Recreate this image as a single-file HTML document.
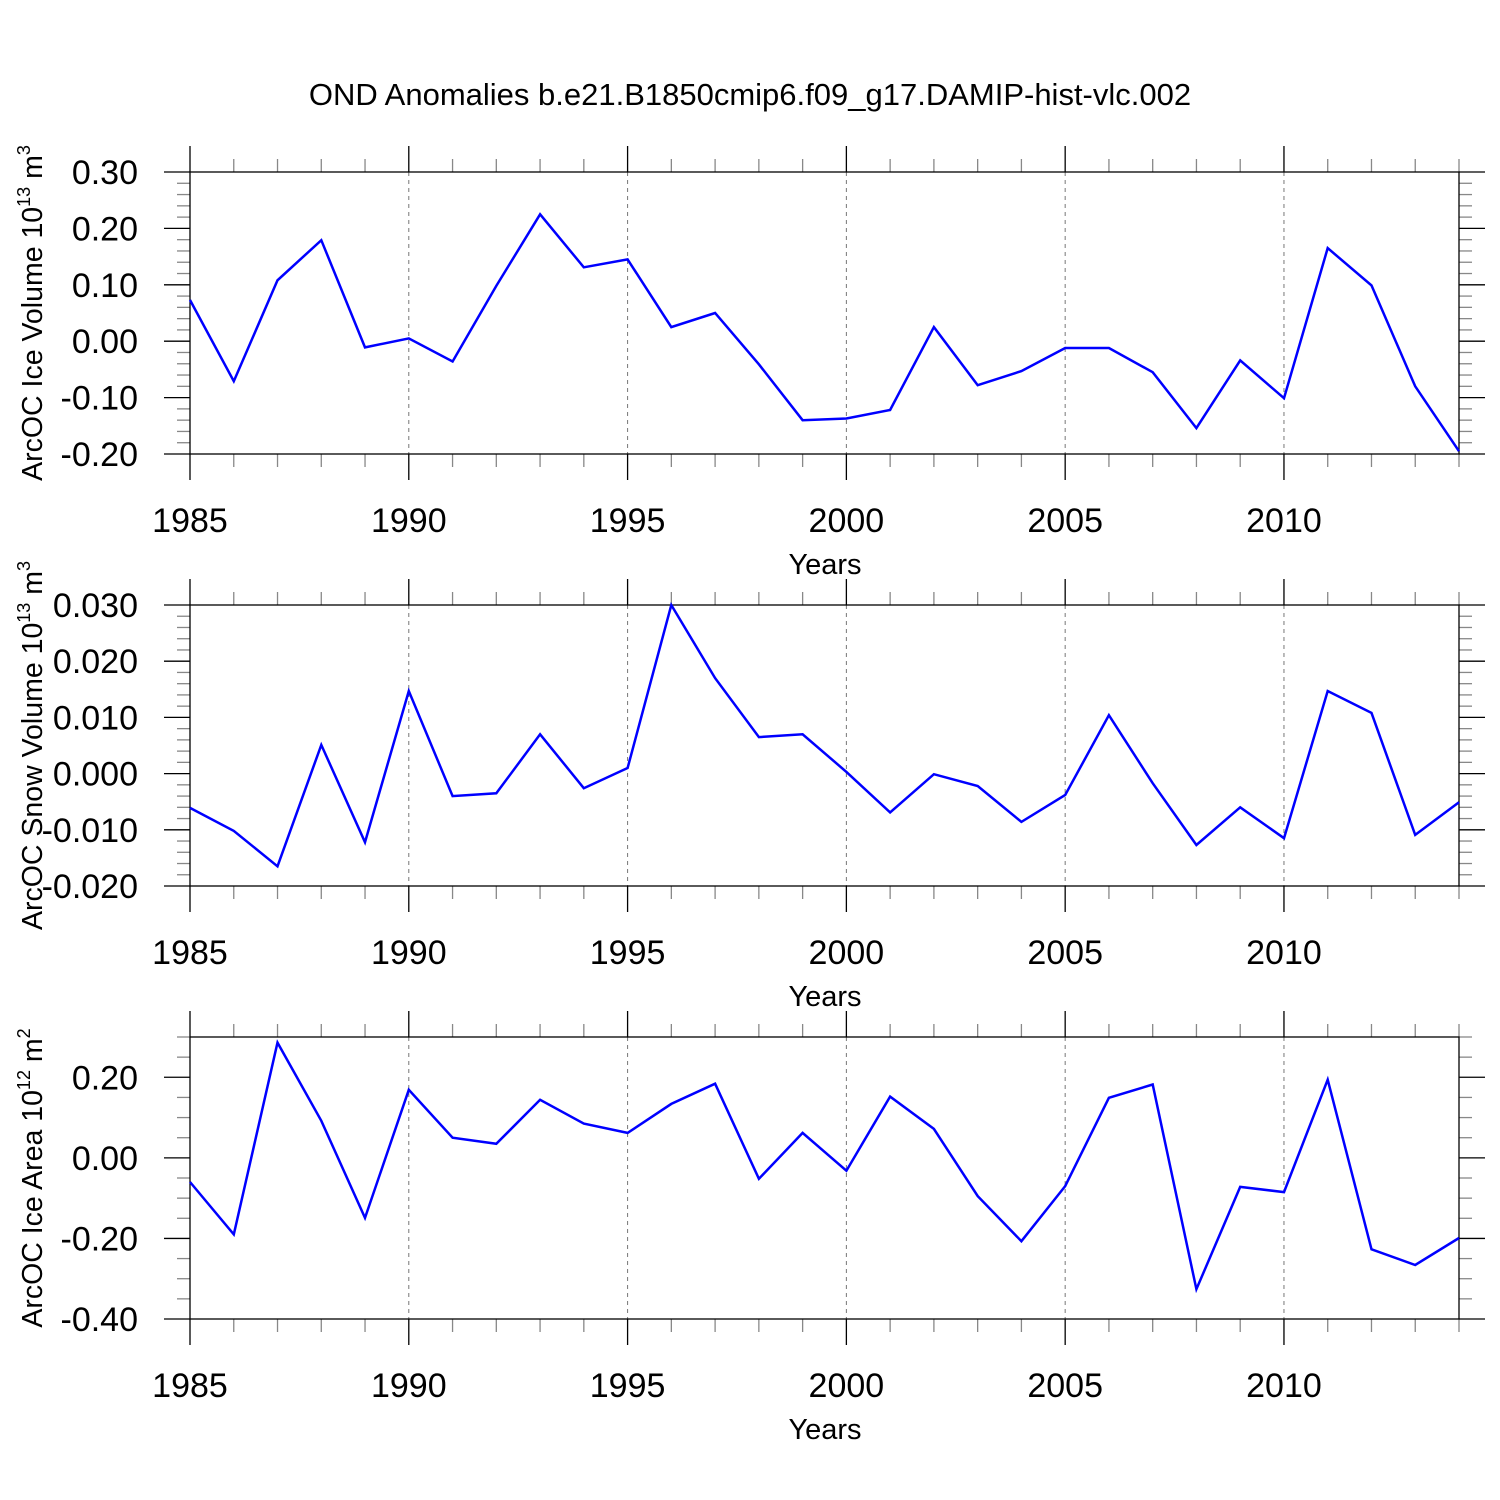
<!DOCTYPE html>
<html><head><meta charset="utf-8"><style>
html,body{margin:0;padding:0;background:#fff;}
svg{display:block;font-family:"Liberation Sans",sans-serif;}
</style></head><body>
<svg id="chart" width="1500" height="1500" viewBox="0 0 1500 1500" xmlns="http://www.w3.org/2000/svg">
<text x="750" y="105" font-size="31" text-anchor="middle">OND Anomalies b.e21.B1850cmip6.f09_g17.DAMIP-hist-vlc.002</text>
</svg>
<script>
const years = [1985,1986,1987,1988,1989,1990,1991,1992,1993,1994,1995,1996,1997,1998,1999,2000,2001,2002,2003,2004,2005,2006,2007,2008,2009,2010,2011,2012,2013,2014];
const iceVolume = [0.073,-0.071,0.108,0.179,-0.011,0.005,-0.036,0.098,0.225,0.131,0.145,0.025,0.050,-0.041,-0.140,-0.137,-0.122,0.025,-0.078,-0.053,-0.012,-0.012,-0.055,-0.154,-0.034,-0.101,0.165,0.099,-0.080,-0.195];
const snowVolume = [-0.0061,-0.0102,-0.0165,0.0051,-0.0122,0.0147,-0.0040,-0.0035,0.0070,-0.0026,0.0010,0.0300,0.0170,0.0065,0.0070,0.0003,-0.0069,-0.0001,-0.0022,-0.0086,-0.0038,0.0104,-0.0017,-0.0127,-0.0060,-0.0115,0.0147,0.0108,-0.0109,-0.0051];
const iceArea = [-0.060,-0.190,0.286,0.092,-0.149,0.169,0.050,0.035,0.144,0.085,0.062,0.134,0.184,-0.052,0.062,-0.032,0.152,0.072,-0.095,-0.207,-0.070,0.149,0.182,-0.326,-0.072,-0.085,0.194,-0.227,-0.266,-0.199];
const xTickYears = [1985,1990,1995,2000,2005,2010];
const ticks1 = ["0.30","0.20","0.10","0.00","-0.10","-0.20"];
const ticks2 = ["0.030","0.020","0.010","0.000","-0.010","-0.020"];
const ticks3 = ["0.20","0.00","-0.20","-0.40"];

const NS="http://www.w3.org/2000/svg";
const svg=document.getElementById('chart');
function mk(tag,attrs,parent){const e=document.createElementNS(NS,tag);for(const k in attrs)e.setAttribute(k,attrs[k]);(parent||svg).appendChild(e);return e;}
const X0=190,X1=1459;
function xs(yr){return X0+(yr-1985)*(X1-X0)/29;}

const panels=[
 {name:'ice-volume',top:172,bot:454,min:-0.2,max:0.3,major:0.1,minor:0.02,labels:ticks1,data:iceVolume,title:['ArcOC Ice Volume 10','13',' m','3']},
 {name:'snow-volume',top:605,bot:886,min:-0.02,max:0.03,major:0.01,minor:0.002,labels:ticks2,data:snowVolume,title:['ArcOC Snow Volume 10','13',' m','3']},
 {name:'ice-area',top:1037,bot:1319,min:-0.4,max:0.3,major:0.2,minor:0.05,labels:ticks3,data:iceArea,title:['ArcOC Ice Area 10','12',' m','2']}
];
panels.forEach(p=>{
 const g=mk('g',{});
 
 
 const ys=v=>p.bot-(v-p.min)*(p.bot-p.top)/(p.max-p.min);
 xTickYears.slice(1).forEach(yr=>{
  const l=mk('line',{x1:xs(yr),x2:xs(yr),y1:p.top,y2:p.bot,stroke:'#777','stroke-width':1,'stroke-dasharray':'4,4'},g);
  
  
 });
 years.forEach(yr=>{
  const maj=(yr-1985)%5===0, L=maj?26:13, c=maj?'#000':'#888';
  mk('line',{x1:xs(yr),x2:xs(yr),y1:p.top-L,y2:p.top,stroke:c,'stroke-width':1.3},g);
  mk('line',{x1:xs(yr),x2:xs(yr),y1:p.bot,y2:p.bot+L,stroke:c,'stroke-width':1.3},g);
 });
 xTickYears.forEach(yr=>{
  const t=mk('text',{x:xs(yr),y:p.bot+78,'font-size':34,'text-anchor':'middle'},g);t.textContent=yr;
  
  
 });
 const nMin=Math.round((p.max-p.min)/p.minor);
 for(let i=0;i<=nMin;i++){
  const v=p.min+i*p.minor; const r=Math.abs(v/p.major-Math.round(v/p.major))<1e-6;
  const L=r?26:13,c=r?'#000':'#888',y=ys(v);
  mk('line',{x1:X0-L,x2:X0,y1:y,y2:y,stroke:c,'stroke-width':1.3},g);
  mk('line',{x1:X1,x2:X1+L,y1:y,y2:y,stroke:c,'stroke-width':1.3},g);
 }
 p.labels.forEach(s=>{
  const t=mk('text',{x:138,y:ys(parseFloat(s))+12,'font-size':34,'text-anchor':'end'},g);t.textContent=s;
  
  
 });
 const b=mk('rect',{x:X0,y:p.top,width:X1-X0,height:p.bot-p.top,fill:'none',stroke:'#000','stroke-width':1.3},g);
 
 
 const pts=p.data.map((v,i)=>xs(years[i]).toFixed(1)+','+ys(v).toFixed(1)).join(' ');
 const pl=mk('polyline',{points:pts,fill:'none',stroke:'#0000ff','stroke-width':2.5,'stroke-linejoin':'miter'},g);
 
 
 const xt=mk('text',{x:825,y:p.bot+120,'font-size':29,'text-anchor':'middle'},g);xt.textContent='Years';
 
 
 const cy=(p.top+p.bot)/2;
 const yt=mk('text',{x:0,y:0,'font-size':28.5,'text-anchor':'middle',transform:`translate(42,${cy}) rotate(-90)`},g);
 
 
 const parts=p.title;
 const a=mk('tspan',{},yt);a.textContent=parts[0];
 const s1=mk('tspan',{'font-size':18,dy:-12},yt);s1.textContent=parts[1];
 const b2=mk('tspan',{dy:12},yt);b2.textContent=parts[2];
 const s2=mk('tspan',{'font-size':18,dy:-12},yt);s2.textContent=parts[3];
});
</script>
</body></html>
